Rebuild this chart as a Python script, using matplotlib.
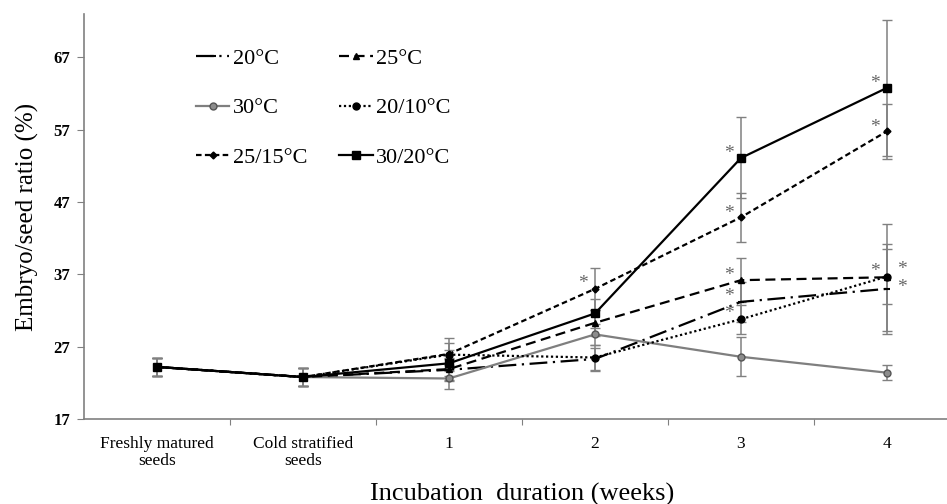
import numpy as np
import matplotlib
matplotlib.use('Agg')
import matplotlib.pyplot as plt

plt.rcParams['font.family'] = ['Liberation Serif', 'DejaVu Serif']

# categories on the x axis
categories = ['Freshly matured\nseeds', 'Cold stratified\nseeds', '1', '2', '3', '4']

# embryo/seed ratio (%) per treatment
s20 = [24.2, 22.8, 23.8, 25.3, 33.2, 35.0]
s25 = [24.2, 22.8, 23.9, 30.3, 36.2, 36.6]
s30 = [24.2, 22.8, 22.6, 28.7, 25.6, 23.4]
s2010 = [24.2, 22.8, 25.9, 25.5, 30.8, 36.7]
s2515 = [24.2, 22.8, 26.0, 35.0, 44.9, 56.8]
s3020 = [24.2, 22.8, 24.7, 31.6, 53.1, 62.8]

# error bars
e20 = [1.2, 1.3, 1.5, 1.5, 2.8, 6.2]
e25 = [1.2, 1.3, 1.5, 1.8, 3.0, 7.4]
e30 = [1.2, 1.3, 1.4, 1.5, 2.7, 1.0]
e2010 = [1.2, 1.3, 2.3, 1.8, 2.0, 3.8]
e2515 = [1.2, 1.3, 1.5, 2.9, 3.4, 3.8]
e3020 = [1.2, 1.3, 1.8, 2.0, 5.6, 9.4]

yticks = [17, 27, 37, 47, 57, 67]

x = np.arange(len(categories))

fig = plt.figure(figsize=(9.47, 5.04), dpi=100)
ax = fig.add_axes([0.0887, 0.1687, 0.925, 0.8033])

series = [
    ('20°C', s20, e20, dict(color='black', ls=(0, (8, 2.5, 1, 2.5)), marker='_', ms=5, mew=1.5)),
    ('30°C', s30, e30, dict(color='#7f7f7f', ls='-', marker='o', ms=5, mfc='#8c8c8c', mec='#555555')),
    ('25/15°C', s2515, e2515, dict(color='black', ls=(0, (2.5, 1.5)), marker='D', ms=3.5)),
    ('25°C', s25, e25, dict(color='black', ls=(0, (4.5, 2.5)), marker='^', ms=5)),
    ('20/10°C', s2010, e2010, dict(color='black', ls=(0, (1, 1.2)), marker='o', ms=5)),
    ('30/20°C', s3020, e3020, dict(color='black', ls='-', marker='s', ms=5.5)),
]

for name, y, err, style in series:
    ax.errorbar(x, y, yerr=err, fmt='none', ecolor='#808080', elinewidth=1.1,
                capsize=3.5, capthick=1.0, zorder=2)
for name, y, err, style in series:
    ax.plot(x, y, lw=1.6, label=name, zorder=3, **style)

# significance asterisks: (series values, index, side, vertical nudge in points)
stars = [(s2515, 3, 'l', 4),
         (s3020, 4, 'l', 3), (s2515, 4, 'l', 3), (s25, 4, 'l', 3), (s20, 4, 'l', 4), (s2010, 4, 'l', 4),
         (s3020, 5, 'l', 3), (s2515, 5, 'l', 3), (s25, 5, 'l', 4), (s2010, 5, 'r', 5), (s20, 5, 'r', 1)]
for y, i, side, dy in stars:
    dx = -9 if side == 'l' else 11
    ax.annotate('*', (x[i], y[i]), xytext=(dx, dy), textcoords='offset points',
                ha='center', va='center', fontsize=14, color='#666666')

ax.set_xlim(-0.5, 5.5)
ax.set_ylim(17, 73)
ax.set_yticks(yticks)
ax.set_yticklabels([str(t) for t in yticks], fontweight='bold', fontsize=12)
ax.set_xticks(np.arange(0.5, 5.5, 1))
ax.set_xticklabels([])
ax.set_xticks(x, minor=True)
ax.set_xticklabels(categories, minor=True, fontsize=12.5, linespacing=1.1)
ax.tick_params(axis='x', which='minor', length=0, pad=12)
ax.tick_params(axis='x', which='major', length=4, color='#808080')
ax.tick_params(axis='y', length=5, pad=5, color='#808080')

for sp in ['top', 'right']:
    ax.spines[sp].set_visible(False)
for sp in ['left', 'bottom']:
    ax.spines[sp].set_color('#808080')
    ax.spines[sp].set_linewidth(1.2)

ax.set_ylabel('Embryo/seed ratio (%)', fontsize=18, labelpad=10)
ax.set_xlabel('Incubation  duration (weeks)', fontsize=19, labelpad=10)

ax.legend(loc='upper left', bbox_to_anchor=(0.105, 0.965), ncol=2, frameon=False,
          fontsize=16, labelspacing=1.3, columnspacing=1.45, handlelength=1.5,
          handletextpad=0.15)

fig.savefig('out.png', dpi=100)
